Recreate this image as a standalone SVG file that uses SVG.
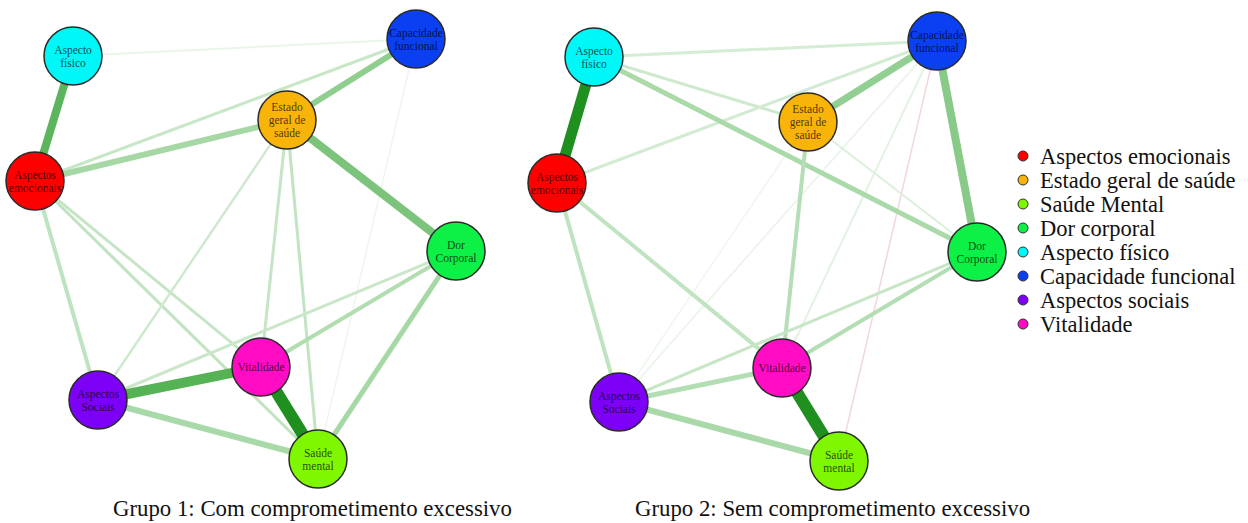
<svg xmlns="http://www.w3.org/2000/svg" width="1248" height="523" viewBox="0 0 1248 523">
<style>
.e{fill:none;stroke-linecap:butt}
.n{stroke:#2a2a2a;stroke-width:1.5}
.lb{font-family:"Liberation Serif","Times New Roman",serif;font-size:11.5px;fill:#000;fill-opacity:0.72;text-anchor:middle}
.lg{font-family:"Liberation Serif","Times New Roman",serif;font-size:22.5px;fill:#111}
.tt{font-family:"Liberation Serif","Times New Roman",serif;font-size:22.8px;fill:#111}
.d{stroke:#333;stroke-width:1}
</style>
<rect width="1248" height="523" fill="#fff"/>
<g id="connectors-g1">
<line class="e" x1="73" y1="56" x2="416" y2="39" stroke="#eaf5ea" stroke-width="2"/>
<line class="e" x1="416" y1="39" x2="318" y2="459" stroke="#eef6ee" stroke-width="1.5"/>
<line class="e" x1="416" y1="39" x2="35" y2="181" stroke="#c8e7c8" stroke-width="3"/>
<line class="e" x1="35" y1="181" x2="98" y2="400" stroke="#bfe2bf" stroke-width="4"/>
<line class="e" x1="35" y1="181" x2="261" y2="367" stroke="#c6e5c6" stroke-width="3"/>
<line class="e" x1="35" y1="181" x2="318" y2="459" stroke="#c0e3c0" stroke-width="3"/>
<line class="e" x1="287" y1="120" x2="98" y2="400" stroke="#cfe9cf" stroke-width="2.5"/>
<line class="e" x1="287" y1="120" x2="261" y2="367" stroke="#c6e5c6" stroke-width="3"/>
<line class="e" x1="287" y1="120" x2="318" y2="459" stroke="#c3e4c3" stroke-width="3"/>
<line class="e" x1="456" y1="251" x2="98" y2="400" stroke="#cae7ca" stroke-width="3"/>
<line class="e" x1="456" y1="251" x2="261" y2="367" stroke="#b1ddb1" stroke-width="4"/>
<line class="e" x1="456" y1="251" x2="318" y2="459" stroke="#a6d8a6" stroke-width="5"/>
<line class="e" x1="98" y1="400" x2="318" y2="459" stroke="#a8d9a8" stroke-width="6"/>
<line class="e" x1="287" y1="120" x2="35" y2="181" stroke="#a6d8a6" stroke-width="6"/>
<line class="e" x1="416" y1="39" x2="287" y2="120" stroke="#8fce8f" stroke-width="6"/>
<line class="e" x1="287" y1="120" x2="456" y2="251" stroke="#7cc47c" stroke-width="8"/>
<line class="e" x1="73" y1="56" x2="35" y2="181" stroke="#5cb55c" stroke-width="8"/>
<line class="e" x1="98" y1="400" x2="261" y2="367" stroke="#55b255" stroke-width="10"/>
<line class="e" x1="261" y1="367" x2="318" y2="459" stroke="#1f8f1f" stroke-width="12"/>
</g>
<g id="connectors-g2">
<line class="e" x1="937" y1="41" x2="839" y2="461" stroke="#f2d6dd" stroke-width="1.5"/>
<line class="e" x1="937" y1="41" x2="782" y2="368" stroke="#e4f2e4" stroke-width="2"/>
<line class="e" x1="937" y1="41" x2="619" y2="402" stroke="#edf6ed" stroke-width="2"/>
<line class="e" x1="808" y1="122" x2="619" y2="402" stroke="#eef6ee" stroke-width="1.5"/>
<line class="e" x1="808" y1="122" x2="977" y2="252" stroke="#dcefdc" stroke-width="2"/>
<line class="e" x1="594" y1="57" x2="937" y2="41" stroke="#d5ecd5" stroke-width="3"/>
<line class="e" x1="594" y1="57" x2="808" y2="122" stroke="#cfe9cf" stroke-width="3"/>
<line class="e" x1="937" y1="41" x2="557" y2="183" stroke="#d2ebd2" stroke-width="3"/>
<line class="e" x1="594" y1="57" x2="977" y2="252" stroke="#aad9aa" stroke-width="5"/>
<line class="e" x1="808" y1="122" x2="782" y2="368" stroke="#b6deb6" stroke-width="4"/>
<line class="e" x1="557" y1="183" x2="619" y2="402" stroke="#bfe2bf" stroke-width="4"/>
<line class="e" x1="557" y1="183" x2="782" y2="368" stroke="#c0e3c0" stroke-width="4"/>
<line class="e" x1="977" y1="252" x2="619" y2="402" stroke="#c6e6c6" stroke-width="3"/>
<line class="e" x1="977" y1="252" x2="782" y2="368" stroke="#b3ddb3" stroke-width="4"/>
<line class="e" x1="619" y1="402" x2="782" y2="368" stroke="#b3ddb3" stroke-width="5"/>
<line class="e" x1="619" y1="402" x2="839" y2="461" stroke="#a9d9a9" stroke-width="6"/>
<line class="e" x1="937" y1="41" x2="808" y2="122" stroke="#92cf92" stroke-width="7"/>
<line class="e" x1="937" y1="41" x2="977" y2="252" stroke="#88cb88" stroke-width="8"/>
<line class="e" x1="594" y1="57" x2="557" y2="183" stroke="#1f8f1f" stroke-width="11"/>
<line class="e" x1="782" y1="368" x2="839" y2="461" stroke="#1f8f1f" stroke-width="12"/>
</g>
<g id="g1-aspecto-fisico"><circle class="n" cx="73" cy="56" r="29" fill="#00f7f7"/><text class="lb" x="73" y="53.5">Aspecto</text><text class="lb" x="73" y="66.5">físico</text></g>
<g id="g1-capacidade-funcional"><circle class="n" cx="416" cy="39" r="29" fill="#0a3ff2"/><text class="lb" x="416" y="36.5">Capacidade</text><text class="lb" x="416" y="49.5">funcional</text></g>
<g id="g1-estado-geral"><circle class="n" cx="287" cy="120" r="29" fill="#f9b40a"/><text class="lb" x="287" y="111">Estado</text><text class="lb" x="287" y="124">geral de</text><text class="lb" x="287" y="137">saúde</text></g>
<g id="g1-aspectos-emocionais"><circle class="n" cx="35" cy="181" r="29" fill="#ff0000"/><text class="lb" x="35" y="178.5">Aspectos</text><text class="lb" x="35" y="191.5">emocionais</text></g>
<g id="g1-dor-corporal"><circle class="n" cx="456" cy="251" r="29" fill="#0df045"/><text class="lb" x="456" y="248.5">Dor</text><text class="lb" x="456" y="261.5">Corporal</text></g>
<g id="g1-vitalidade"><circle class="n" cx="261" cy="367" r="29" fill="#ff0cc4"/><text class="lb" x="261" y="371">Vitalidade</text></g>
<g id="g1-aspectos-sociais"><circle class="n" cx="98" cy="400" r="29" fill="#7d00f7"/><text class="lb" x="98" y="397.5">Aspectos</text><text class="lb" x="98" y="410.5">Sociais</text></g>
<g id="g1-saude-mental"><circle class="n" cx="318" cy="459" r="29" fill="#7ff700"/><text class="lb" x="318" y="456.5">Saúde</text><text class="lb" x="318" y="469.5">mental</text></g>
<g id="g2-aspecto-fisico"><circle class="n" cx="594" cy="57" r="29" fill="#00f7f7"/><text class="lb" x="594" y="54.5">Aspecto</text><text class="lb" x="594" y="67.5">físico</text></g>
<g id="g2-capacidade-funcional"><circle class="n" cx="937" cy="41" r="29" fill="#0a3ff2"/><text class="lb" x="937" y="38.5">Capacidade</text><text class="lb" x="937" y="51.5">funcional</text></g>
<g id="g2-estado-geral"><circle class="n" cx="808" cy="122" r="29" fill="#f9b40a"/><text class="lb" x="808" y="113">Estado</text><text class="lb" x="808" y="126">geral de</text><text class="lb" x="808" y="139">saúde</text></g>
<g id="g2-aspectos-emocionais"><circle class="n" cx="557" cy="183" r="29" fill="#ff0000"/><text class="lb" x="557" y="180.5">Aspectos</text><text class="lb" x="557" y="193.5">emocionais</text></g>
<g id="g2-dor-corporal"><circle class="n" cx="977" cy="252" r="29" fill="#0df045"/><text class="lb" x="977" y="249.5">Dor</text><text class="lb" x="977" y="262.5">Corporal</text></g>
<g id="g2-vitalidade"><circle class="n" cx="782" cy="368" r="29" fill="#ff0cc4"/><text class="lb" x="782" y="372">Vitalidade</text></g>
<g id="g2-aspectos-sociais"><circle class="n" cx="619" cy="402" r="29" fill="#7d00f7"/><text class="lb" x="619" y="399.5">Aspectos</text><text class="lb" x="619" y="412.5">Sociais</text></g>
<g id="g2-saude-mental"><circle class="n" cx="839" cy="461" r="29" fill="#7ff700"/><text class="lb" x="839" y="458.5">Saúde</text><text class="lb" x="839" y="471.5">mental</text></g>
<g id="legend">
<circle class="d" cx="1023" cy="156" r="5" fill="#ff0000"/><text class="lg" x="1040" y="164">Aspectos emocionais</text>
<circle class="d" cx="1023" cy="180" r="5" fill="#f9b40a"/><text class="lg" x="1040" y="188">Estado geral de saúde</text>
<circle class="d" cx="1023" cy="204" r="5" fill="#7ff700"/><text class="lg" x="1040" y="212">Saúde Mental</text>
<circle class="d" cx="1023" cy="228" r="5" fill="#0df045"/><text class="lg" x="1040" y="236">Dor corporal</text>
<circle class="d" cx="1023" cy="252" r="5" fill="#00f7f7"/><text class="lg" x="1040" y="260">Aspecto físico</text>
<circle class="d" cx="1023" cy="276" r="5" fill="#0a3ff2"/><text class="lg" x="1040" y="284">Capacidade funcional</text>
<circle class="d" cx="1023" cy="300" r="5" fill="#7d00f7"/><text class="lg" x="1040" y="308">Aspectos sociais</text>
<circle class="d" cx="1023" cy="324" r="5" fill="#ff0cc4"/><text class="lg" x="1040" y="332">Vitalidade</text>
</g>
<g id="titles">
<text class="tt" x="113" y="516">Grupo 1: Com comprometimento excessivo</text>
<text class="tt" x="635" y="516">Grupo 2: Sem comprometimento excessivo</text>
</g>
</svg>
